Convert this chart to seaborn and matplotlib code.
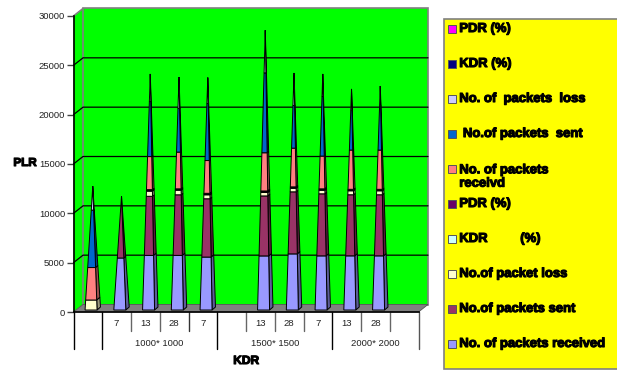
import numpy as np
import pandas as pd
import seaborn as sns
import matplotlib.pyplot as plt
import matplotlib.patheffects as pe
from matplotlib.colors import to_rgb
from matplotlib.patches import Polygon, Rectangle

# 12 category slots, some with no label
slots = list(range(12))
slot_labels = ["", "7", "13", "28", "7", "", "13", "28", "7", "13", "28", ""]
groups = ["1000* 1000", "1500* 1500", "2000* 2000"]
group_centers = [2.49, 6.51, 9.99]

# stacked values, bottom series first
received = [0, 5200, 5500, 5500, 5330, 0, 5450, 5650, 5450, 5450, 5450, 0]
sent = [0, 6200, 5950, 6100, 5870, 0, 6050, 6250, 6250, 6150, 6150, 0]
loss = [1000, 0, 510, 450, 400, 0, 350, 350, 350, 400, 400, 0]
kdr = [0, 0, 80, 80, 80, 0, 80, 80, 80, 80, 80, 0]
pdr = [0, 0, 80, 70, 70, 0, 70, 70, 70, 70, 70, 0]
received2 = [3250, 0, 3330, 3700, 3300, 0, 3850, 3900, 3300, 3950, 3950, 0]
sent2 = [5750, 0, 5550, 4400, 5750, 0, 8050, 4300, 6000, 4000, 4500, 0]
loss2 = [2400, 0, 2600, 3000, 2440, 0, 4100, 3100, 2100, 2000, 1800, 0]
kdr2 = [0, 0, 90, 80, 80, 0, 100, 90, 90, 80, 80, 0]
pdr2 = [0, 0, 80, 80, 80, 0, 100, 80, 80, 70, 70, 0]

series = [received, sent, loss, kdr, pdr, received2, sent2, loss2, kdr2, pdr2]
colors = ["#9999FF", "#993366", "#FFFFCC", "#CCFFFF", "#660066",
          "#FF8080", "#0066CC", "#CCCCFF", "#000080", "#FF00FF"]
labels = ["No. of packets received", "No.of packets sent", "No.of packet loss",
          "KDR         (%)", "PDR (%)", "No. of packets\nreceivd",
          " No.of packets  sent", "No. of  packets  loss", "KDR (%)", "PDR (%)"]

sns.set_theme(style="white")
plt.rcParams["font.family"] = ["Liberation Sans", "DejaVu Sans"]

W, H = 617, 372
fig = plt.figure(figsize=(W / 100, H / 100), dpi=100, facecolor="white")
ax = fig.add_axes([73.5 / W, (H - 312) / H, 345 / W, 296 / H])

px_x = 12 / 345
px_y = 30000 / 296
wall_dx = 9.5 * px_x
wall_dy = 7.5 * px_y

# walls and floor
ax.add_patch(Polygon([(-0.5, 0), (-0.5 + wall_dx, wall_dy), (-0.5 + wall_dx, 30000 + wall_dy), (-0.5, 30000)],
                     fc="#00FF00", ec="none", clip_on=False, zorder=0))
ax.add_patch(Rectangle((-0.5 + wall_dx, wall_dy), 12, 30000, fc="#00FF00", ec="#808080", lw=1.2, clip_on=False, zorder=0))
ax.add_patch(Polygon([(-0.5, 0), (11.5, 0), (11.5 + wall_dx, wall_dy), (-0.5 + wall_dx, wall_dy)],
                     fc="#808080", ec="#555555", lw=0.6, clip_on=False, zorder=1))
ax.plot([-0.5, -0.5 + wall_dx], [30000, 30000 + wall_dy], color="#808080", lw=1.2, clip_on=False, zorder=1)

y_ticks = [0, 5000, 10000, 15000, 20000, 25000, 30000]
for v in y_ticks[1:-1]:
    ax.plot([-0.5, -0.5 + wall_dx, 11.5 + wall_dx], [v, v + wall_dy, v + wall_dy],
            color="black", lw=0.9, clip_on=False, zorder=1)


def pyramid_point(cx, v, total, u, w):
    t = v / total
    hw = 6 * px_x
    dx = 3.4 * px_x
    dy = 3 * px_y
    return (cx + (u * hw + w * dx / 2) * (1 - t), v + 355 + w * dy / 2 * (1 - t))


totals = np.sum(series, axis=0)
bottom = np.zeros(12)
for values, color in zip(series, colors):
    df = pd.DataFrame({"slot": slots, "value": values})
    n_before = len(ax.containers)
    sns.barplot(data=df, x="slot", y="value", native_scale=True, bottom=bottom, color=color,
                width=0.42, legend=False, errorbar=None, ax=ax)
    for bar in ax.containers[n_before]:
        bar.set_visible(False)
        if bar.get_height() <= 0:
            continue
        cx = bar.get_x() + bar.get_width() / 2 + 0.17
        total = totals[int(round(cx - 0.17))]
        v0, v1 = bar.get_y(), bar.get_y() + bar.get_height()
        dark = tuple(c * 0.6 for c in to_rgb(color))
        side = [pyramid_point(cx, v0, total, 1, -1), pyramid_point(cx, v0, total, 1, 1),
                pyramid_point(cx, v1, total, 1, 1), pyramid_point(cx, v1, total, 1, -1)]
        front = [pyramid_point(cx, v0, total, -1, -1), pyramid_point(cx, v0, total, 1, -1),
                 pyramid_point(cx, v1, total, 1, -1), pyramid_point(cx, v1, total, -1, -1)]
        ax.add_patch(Polygon(side, fc=dark, ec="black", lw=0.7, clip_on=False, zorder=3))
        ax.add_patch(Polygon(front, fc=color, ec="black", lw=0.7, clip_on=False, zorder=3))
    bottom = bottom + np.array(values)

ax.set_xlim(-0.5, 11.5)
ax.set_ylim(0, 30000)

for s in ["top", "right"]:
    ax.spines[s].set_visible(False)
for s in ["left", "bottom"]:
    ax.spines[s].set_color("black")
    ax.spines[s].set_linewidth(1.2)
    ax.spines[s].set_zorder(4)

ax.set_yticks(y_ticks)
ax.tick_params(axis="y", left=True, length=5, width=1, color="#444444", pad=1, labelsize=6.8, labelcolor="#222222")
ax.set_xticks(slots)
ax.set_xticklabels(slot_labels)
ax.tick_params(axis="x", bottom=False, length=0, pad=5, labelsize=6.8, labelcolor="#222222")
ax.set_xlabel("")
ax.set_ylabel("")

# two level category axis
tr = ax.get_xaxis_transform()
for edge in [-0.5, 0.5, 4.5, 8.5]:
    ax.plot([edge, edge], [0, -0.125], transform=tr, color="black", lw=1, clip_on=False)
ax.plot([11.5, 11.5], [0, -0.125], transform=tr, color="#555555", lw=1, clip_on=False)
for edge in [1.5, 2.5, 5.5, 6.5, 7.5, 9.5, 10.5]:
    ax.plot([edge, edge], [0, -0.064], transform=tr, color="#666666", lw=1, clip_on=False)
ax.plot([3.5, 3.5], [0, -0.064], transform=tr, color="#333333", lw=1, clip_on=False)
for name, c in zip(groups, group_centers):
    ax.text(c, -0.105, name, transform=tr, ha="center", va="center", fontsize=6.8, color="#222222")

heavy = [pe.withStroke(linewidth=0.8, foreground="black")]

# overlay in pixel coordinates for the axis titles and the legend box
ov = fig.add_axes([0, 0, 1, 1], facecolor="none")
ov.set_xlim(0, W)
ov.set_ylim(H, 0)
ov.axis("off")
ov.text(25, 163, "PLR", ha="center", va="center", fontsize=8.4, fontweight="bold", color="black", path_effects=heavy)
ov.text(246, 361, "KDR", ha="center", va="center", fontsize=8.6, fontweight="bold", color="black", path_effects=heavy)

ov.add_patch(Rectangle((444, 18.5), 176, 350.5, fc="#FFFF00", ec="#808080", lw=1.2))
for i, (label, color) in enumerate(zip(labels[::-1], colors[::-1])):
    yc = 29 + 35 * i
    ov.add_patch(Rectangle((447.7, yc - 4), 8, 8, fc=color, ec="#555555", lw=0.7))
    ov.text(459.3, yc + 8 if "\n" in label else yc, label, ha="left", va="center", fontsize=9.4, fontweight="bold",
            color="black", linespacing=1.15, path_effects=heavy)

fig.savefig("out.png", dpi=100)
